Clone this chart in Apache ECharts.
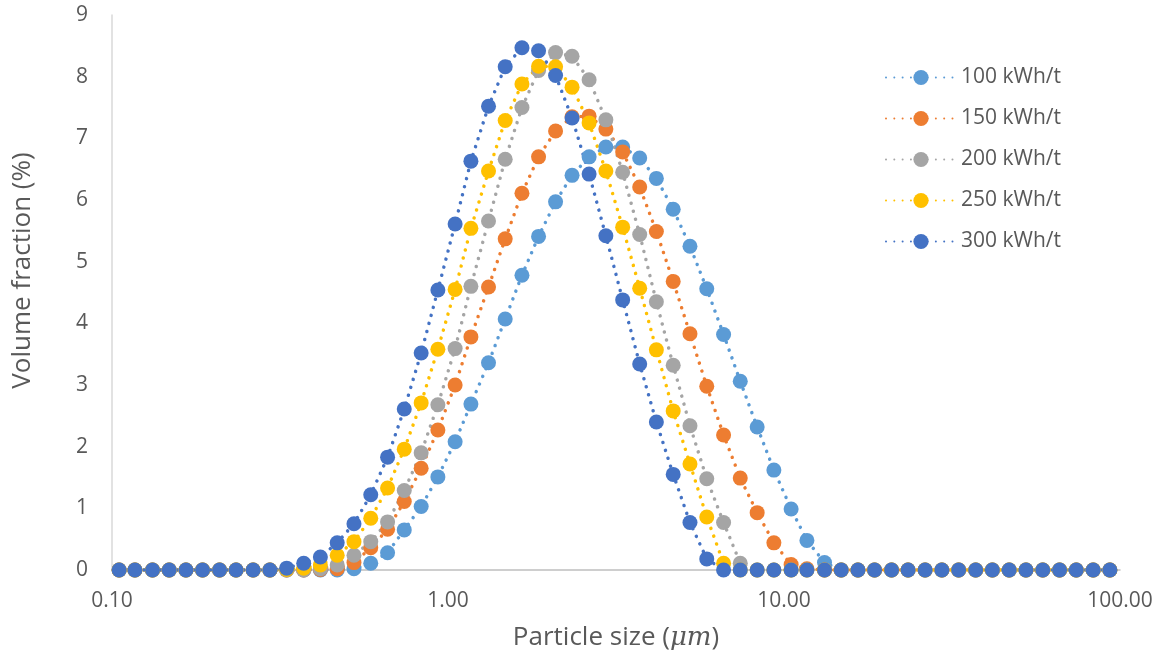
<!DOCTYPE html>
<html>
<head>
<meta charset="utf-8">
<script src="https://cdn.jsdelivr.net/npm/echarts@6/dist/echarts.min.js"></script>
<style>
  html, body { margin: 0; padding: 0; background: #fff; }
  #chart { width: 1159px; height: 659px; }
</style>
</head>
<body>
<div id="chart"></div>
<script>
// particle size classes (um)
const sizes = [
  0.105, 0.117, 0.132, 0.148, 0.166, 0.186, 0.209, 0.234, 0.263, 0.295,
  0.331, 0.372, 0.417, 0.468, 0.525, 0.589, 0.661, 0.741, 0.832, 0.933,
  1.05, 1.17, 1.32, 1.48, 1.66, 1.86, 2.09, 2.34, 2.63, 2.95,
  3.31, 3.72, 4.17, 4.68, 5.25, 5.89, 6.61, 7.41, 8.32, 9.33,
  10.5, 11.7, 13.2, 14.8, 16.6, 18.6, 20.9, 23.4, 26.3, 29.5,
  33.1, 37.2, 41.7, 46.8, 52.5, 58.9, 66.1, 74.1, 83.2, 93.3
];

const names = ['100 kWh/t', '150 kWh/t', '200 kWh/t', '250 kWh/t', '300 kWh/t'];
const colors = ['#5B9BD5', '#ED7D31', '#A5A5A5', '#FFC000', '#4472C4'];

// volume fraction (%)
const e100 = [
  0, 0, 0, 0, 0, 0, 0, 0, 0, 0,
  0, 0, 0, 0, 0.02, 0.11, 0.28, 0.65, 1.03, 1.51,
  2.08, 2.69, 3.36, 4.07, 4.78, 5.41, 5.97, 6.40, 6.70, 6.86,
  6.86, 6.68, 6.35, 5.85, 5.25, 4.56, 3.82, 3.06, 2.32, 1.62,
  0.99, 0.48, 0.12, 0, 0, 0, 0, 0, 0, 0,
  0, 0, 0, 0, 0, 0, 0, 0, 0, 0
];
const e150 = [
  0, 0, 0, 0, 0, 0, 0, 0, 0, 0,
  0, 0, 0.01, 0.02, 0.12, 0.36, 0.66, 1.11, 1.65, 2.27,
  3.00, 3.78, 4.59, 5.37, 6.11, 6.70, 7.12, 7.35, 7.36, 7.15,
  6.78, 6.21, 5.49, 4.68, 3.83, 2.98, 2.19, 1.49, 0.93, 0.44,
  0.09, 0.02, 0, 0, 0, 0, 0, 0, 0, 0,
  0, 0, 0, 0, 0, 0, 0, 0, 0, 0
];
const e200 = [
  0, 0, 0, 0, 0, 0, 0, 0, 0, 0,
  0, 0, 0.02, 0.08, 0.24, 0.46, 0.78, 1.29, 1.90, 2.68,
  3.59, 4.60, 5.66, 6.66, 7.50, 8.10, 8.39, 8.33, 7.95, 7.30,
  6.45, 5.44, 4.35, 3.32, 2.34, 1.48, 0.77, 0.11, 0, 0,
  0, 0, 0, 0, 0, 0, 0, 0, 0, 0,
  0, 0, 0, 0, 0, 0, 0, 0, 0, 0
];
const e250 = [
  0, 0, 0, 0, 0, 0, 0, 0, 0, 0,
  0.01, 0.03, 0.08, 0.24, 0.46, 0.84, 1.33, 1.96, 2.71, 3.58,
  4.55, 5.54, 6.47, 7.29, 7.88, 8.17, 8.16, 7.83, 7.25, 6.47,
  5.56, 4.57, 3.57, 2.58, 1.72, 0.86, 0.11, 0, 0, 0,
  0, 0, 0, 0, 0, 0, 0, 0, 0, 0,
  0, 0, 0, 0, 0, 0, 0, 0, 0, 0
];
const e300 = [
  0, 0, 0, 0, 0, 0, 0, 0, 0, 0,
  0.03, 0.11, 0.21, 0.44, 0.75, 1.22, 1.83, 2.61, 3.52, 4.54,
  5.61, 6.63, 7.52, 8.16, 8.47, 8.42, 8.02, 7.33, 6.42, 5.42,
  4.38, 3.34, 2.40, 1.55, 0.77, 0.18, 0, 0, 0, 0,
  0, 0, 0, 0, 0, 0, 0, 0, 0, 0,
  0, 0, 0, 0, 0, 0, 0, 0, 0, 0
];
const allData = [e100, e150, e200, e250, e300];

const textColor = '#595959';
const font = '"Open Sans", "Noto Sans", sans-serif';

const chart = echarts.init(document.getElementById('chart'), null, { renderer: 'canvas' });

const series = names.map((n, i) => ({
  name: n,
  type: 'line',
  data: sizes.map((s, j) => [s, allData[i][j]]),
  symbol: 'circle',
  symbolSize: 15,
  showSymbol: true,
  animation: false,
  itemStyle: { color: colors[i] },
  lineStyle: {
    color: colors[i],
    width: 3.5,
    type: [0.01, 8.3],
    cap: 'round'
  }
}));

chart.setOption({
  backgroundColor: '#fff',
  animation: false,
  grid: { left: 112, right: 39, top: 15, bottom: 89 },
  legend: {
    orient: 'vertical',
    left: 880,
    top: 62,
    itemWidth: 70,
    itemHeight: 19,
    itemGap: 20,
    textStyle: { color: textColor, fontSize: 21, fontFamily: font },
    data: names
  },
  xAxis: {
    type: 'log',
    logBase: 10,
    min: 0.1,
    max: 100,
    name: 'Particle size ({i|μm})',
    nameLocation: 'middle',
    nameGap: 55,
    nameTextStyle: {
      color: textColor, fontSize: 26, fontFamily: font,
      rich: { i: { fontStyle: 'italic', fontSize: 26, color: textColor, fontFamily: 'DejaVu Serif, serif' } }
    },
    axisLine: { show: true, lineStyle: { color: '#BFBFBF', width: 1.5 } },
    axisTick: { show: false },
    splitLine: { show: false },
    minorTick: { show: false },
    axisLabel: {
      color: textColor, fontSize: 21, fontFamily: font, margin: 21,
      formatter: v => Number(v).toFixed(2)
    }
  },
  yAxis: {
    type: 'value',
    min: 0,
    max: 9,
    interval: 1,
    name: 'Volume fraction (%)',
    nameLocation: 'middle',
    nameGap: 76,
    nameTextStyle: { color: textColor, fontSize: 26, fontFamily: font, padding: [0, 0, 0, 44] },
    axisLine: { show: true, lineStyle: { color: '#D9D9D9', width: 1.5 } },
    axisTick: { show: false },
    splitLine: { show: false },
    axisLabel: { color: textColor, fontSize: 21, fontFamily: font, margin: 24 }
  },
  series: series
});
</script>
</body>
</html>
